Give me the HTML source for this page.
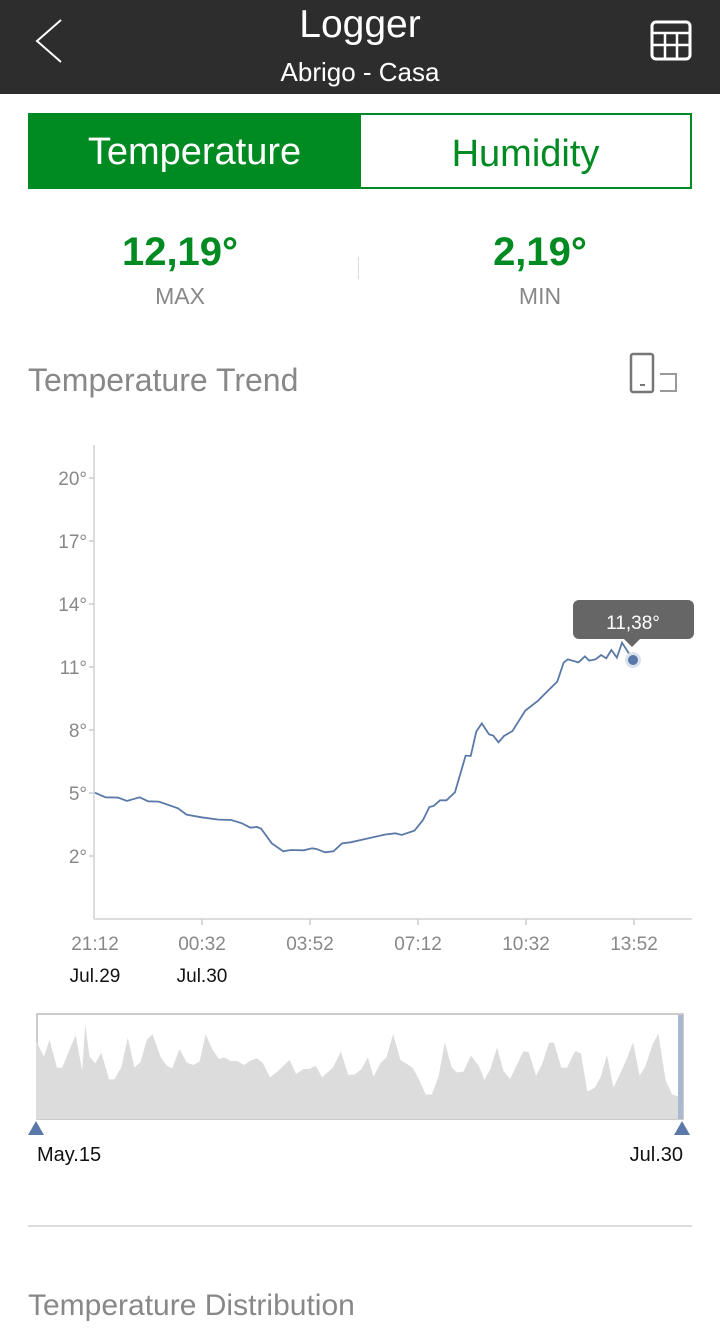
<!DOCTYPE html>
<html><head><meta charset="utf-8"><style>
body{margin:0;width:720px;height:1337px;background:#fff;font-family:"Liberation Sans",sans-serif;position:relative;overflow:hidden}
.a{position:absolute;white-space:nowrap}
</style></head><body>
<div class="a" style="left:0;top:0;width:720px;height:94px;background:#2d2d2d"></div>
<div class="a" style="left:0;width:720px;top:2px;text-align:center;color:#fff;font-size:39px;line-height:46px">Logger</div>
<div class="a" style="left:0;width:720px;top:55px;text-align:center;color:#fff;font-size:26px;line-height:34px">Abrigo - Casa</div>
<svg class="a" style="left:0;top:0" width="720" height="94">
<polyline points="61,20 37,41 61,62" fill="none" stroke="#fff" stroke-width="2"/>
<rect x="652" y="22" width="38" height="37" rx="4" fill="none" stroke="#fff" stroke-width="3"/>
<path d="M652,33H690M652,45H690M665,33V59M677,33V59" stroke="#fff" stroke-width="2.5"/>
</svg>
<div class="a" style="left:28px;top:113px;width:333px;height:76px;background:#008a22;color:#fff;font-size:38px;line-height:78px;text-align:center">Temperature</div>
<div class="a" style="left:361px;top:113px;width:329px;height:72px;border:2px solid #008a22;border-left:none;color:#008a22;font-size:38px;line-height:78px;text-align:center">Humidity</div>
<div class="a" style="left:60px;width:240px;top:230px;text-align:center;color:#008a22;font-size:40px;font-weight:bold">12,19°</div>
<div class="a" style="left:420px;width:240px;top:230px;text-align:center;color:#008a22;font-size:40px;font-weight:bold">2,19°</div>
<div class="a" style="left:60px;width:240px;top:283px;text-align:center;color:#888;font-size:23px">MAX</div>
<div class="a" style="left:420px;width:240px;top:283px;text-align:center;color:#888;font-size:23px">MIN</div>
<div class="a" style="left:358px;top:257px;width:1px;height:22px;background:#ddd"></div>
<div class="a" style="left:28px;top:362px;color:#888;font-size:32px">Temperature Trend</div>
<svg class="a" style="left:0;top:340px" width="720" height="60">
<rect x="631" y="14" width="22" height="38" rx="2" fill="none" stroke="#777" stroke-width="2.5"/>
<path d="M640,45h5" stroke="#777" stroke-width="2"/>
<path d="M660,34h16v17h-16" fill="none" stroke="#999" stroke-width="2"/>
</svg>
<svg class="a" style="left:0;top:0" width="720" height="1337">
<line x1="94" y1="445" x2="94" y2="919" stroke="#ddd" stroke-width="2"/>
<line x1="94" y1="919" x2="692" y2="919" stroke="#ddd" stroke-width="2"/>
<g stroke="#ccc" stroke-width="1.5">
<line x1="89" y1="478" x2="94" y2="478"/><line x1="89" y1="541" x2="94" y2="541"/><line x1="89" y1="604" x2="94" y2="604"/><line x1="89" y1="667" x2="94" y2="667"/><line x1="89" y1="730" x2="94" y2="730"/><line x1="89" y1="793" x2="94" y2="793"/><line x1="89" y1="856" x2="94" y2="856"/>
<line x1="202" y1="919" x2="202" y2="925"/><line x1="310" y1="919" x2="310" y2="925"/><line x1="418" y1="919" x2="418" y2="925"/><line x1="526" y1="919" x2="526" y2="925"/><line x1="634" y1="919" x2="634" y2="925"/>
</g>
<g font-family="Liberation Sans" font-size="19" fill="#888" text-anchor="end">
<text x="87" y="485">20°</text><text x="87" y="548">17°</text><text x="87" y="611">14°</text><text x="87" y="674">11°</text><text x="87" y="737">8°</text><text x="87" y="800">5°</text><text x="87" y="863">2°</text>
</g>
<g font-family="Liberation Sans" font-size="19" fill="#888" text-anchor="middle">
<text x="95" y="950">21:12</text><text x="202" y="950">00:32</text><text x="310" y="950">03:52</text><text x="418" y="950">07:12</text><text x="526" y="950">10:32</text><text x="634" y="950">13:52</text>
</g>
<g font-family="Liberation Sans" font-size="19" fill="#111" text-anchor="middle">
<text x="95" y="982">Jul.29</text><text x="202" y="982">Jul.30</text>
</g>
<g transform="translate(31,590) scale(0.4261,0.3333)">
<polyline vector-effect="non-scaling-stroke" fill="none" stroke="#5b79a8" stroke-width="1.8" points="150,608 175,622 205,623 225,633 255,622 275,634 300,635 345,655 365,674 400,682 440,689 470,690 495,700 515,713 530,711 540,716 565,760 592,784 610,780 640,781 660,775 670,777 690,787 710,784 730,760 750,757 830,734 855,730 870,735 900,722 920,690 935,651 945,648 960,631 975,631 995,607 1020,497 1032,498 1045,425 1058,400 1075,433 1085,437 1097,457 1110,438 1130,423 1160,362 1190,332 1215,300 1235,275 1250,218 1260,208 1285,217 1300,199 1310,212 1325,208 1338,195 1350,205 1362,180 1375,203 1387,158 1413,210"/>
</g>
<circle cx="633" cy="660" r="8" fill="#dbe2ee"/><circle cx="633" cy="660" r="5" fill="#5b79a8"/>
<rect x="573" y="600" width="121" height="39" rx="6" fill="#666"/>
<path d="M624,639l8,8l8,-8z" fill="#666"/>
<text x="633" y="629" font-family="Liberation Sans" font-size="19" fill="#fff" text-anchor="middle">11,38°</text>
<rect x="37" y="1014" width="646" height="105" fill="#fff" stroke="#bbb" stroke-width="1.5"/>
<g transform="translate(20,1000) scale(0.4348,0.3333)">
<polygon fill="#dcdcdc" points="38,357 38,125 55,170 68,120 85,203 97,203 128,105 143,212 150,75 160,170 173,190 187,158 205,238 217,238 233,202 248,113 263,203 277,187 292,118 305,103 323,170 338,198 350,205 367,147 383,187 398,195 413,185 427,103 443,150 458,177 470,172 485,183 500,183 515,195 530,182 545,175 558,188 575,232 590,217 620,180 635,222 652,207 665,207 680,197 695,232 720,202 738,155 755,225 770,223 785,208 800,172 813,230 830,188 843,172 858,102 875,180 903,203 917,237 933,283 947,284 963,228 977,127 993,203 1005,217 1020,215 1037,167 1055,197 1068,240 1082,207 1097,142 1112,213 1127,237 1158,153 1170,157 1187,227 1200,195 1217,128 1228,128 1245,203 1258,203 1277,153 1290,160 1305,275 1322,263 1335,232 1350,165 1365,263 1393,185 1410,127 1425,227 1438,200 1455,133 1468,100 1485,242 1500,283 1515,290 1525,300 1525,357"/>
</g>
<rect x="678" y="1015" width="5" height="104" fill="#aab8cf"/>
<path d="M28,1135l8,-14l8,14z" fill="#5b79a8"/>
<path d="M674,1135l8,-14l8,14z" fill="#5b79a8"/>
<text x="37" y="1161" font-family="Liberation Sans" font-size="20" fill="#111">May.15</text>
<text x="683" y="1161" font-family="Liberation Sans" font-size="20" fill="#111" text-anchor="end">Jul.30</text>
<line x1="28" y1="1226" x2="692" y2="1226" stroke="#ddd" stroke-width="2"/>
</svg>
<div class="a" style="left:28px;top:1289px;color:#888;font-size:30px">Temperature Distribution</div>
</body></html>
